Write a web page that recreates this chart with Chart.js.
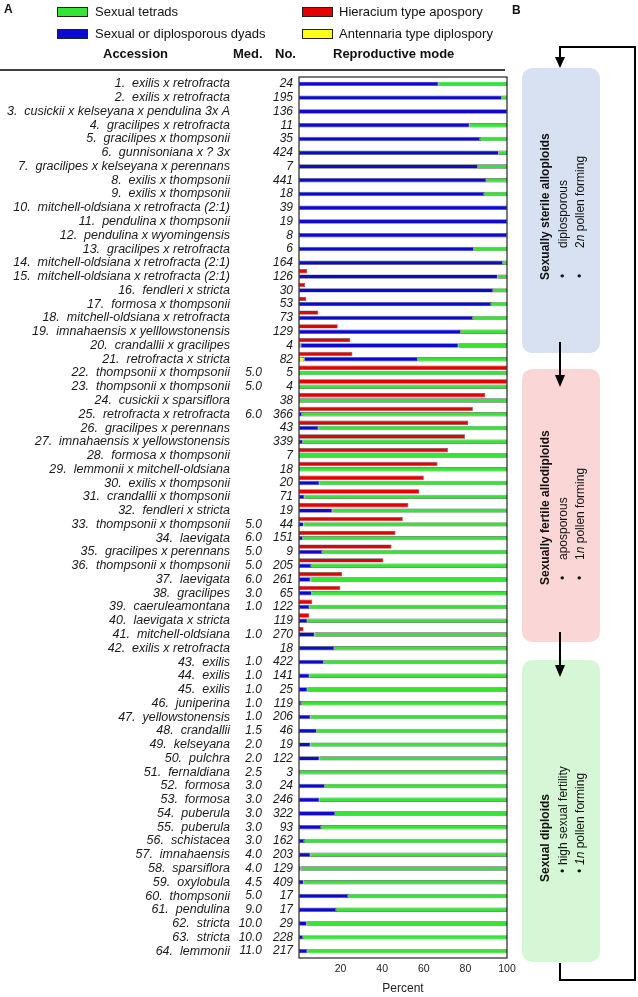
<!DOCTYPE html>
<html>
<head>
<meta charset="utf-8">
<script src="https://cdn.jsdelivr.net/npm/chart.js@4"></script>
<style>
html, body { margin: 0; padding: 0; background: #fff; }
#wrap { position: relative; width: 638px; height: 997px; font-family: "Liberation Sans", Arial, sans-serif; color: #111; }
#wrap canvas { position: absolute; left: 0; top: 0; }
.lg { position: absolute; font-size: 13px; line-height: 14px; white-space: nowrap; }
.sw { position: absolute; width: 29px; height: 8px; border: 1px solid #222; }
.hd { position: absolute; top: 46px; font-size: 13px; font-weight: bold; line-height: 15px; white-space: nowrap; }
.pl { position: absolute; font-size: 12px; font-weight: bold; }
#panelB { position: absolute; left: 0; top: 0; pointer-events: none; }
</style>
</head>
<body>
<div id="wrap">
  <canvas id="chart" width="638" height="997"></canvas>

  <div class="pl" style="left:4px;top:2px">A</div>
  <div class="pl" style="left:512px;top:3px">B</div>

  <!-- leyenda -->
  <div class="sw" style="left:57px;top:7px;background:#33e633"></div>
  <div class="lg" style="left:95px;top:5px">Sexual tetrads</div>
  <div class="sw" style="left:57px;top:29px;background:#0a0ad2"></div>
  <div class="lg" style="left:95px;top:27px">Sexual or diplosporous dyads</div>
  <div class="sw" style="left:302px;top:7px;background:#e60000"></div>
  <div class="lg" style="left:339px;top:5px">Hieracium type apospory</div>
  <div class="sw" style="left:302px;top:29px;background:#ffff1a"></div>
  <div class="lg" style="left:339px;top:27px">Antennaria type diplospory</div>

  <!-- cabecera de columnas -->
  <div class="hd" style="left:103px">Accession</div>
  <div class="hd" style="left:233px">Med.</div>
  <div class="hd" style="left:275px">No.</div>
  <div class="hd" style="left:333px">Reproductive mode</div>

  <svg id="panelB" width="638" height="997" font-family="Liberation Sans, Arial, sans-serif">
    <line x1="0" y1="70" x2="505" y2="70" stroke="#000" stroke-width="1.5"/>
    <rect x="522" y="68" width="78" height="285" rx="10" fill="#d8e1f2"/>
    <rect x="522" y="369" width="78" height="273" rx="10" fill="#fbd6d6"/>
    <rect x="522" y="660" width="78" height="302" rx="10" fill="#d6f7d6"/>
    <g stroke="#000" stroke-width="2" fill="none">
      <polyline points="560,963 560,980 635,980 635,47 560,47 560,58"/>
      <line x1="560" y1="342" x2="560" y2="376"/>
      <line x1="560" y1="632" x2="560" y2="666"/>
    </g>
    <g fill="#000">
      <polygon points="555,57 565,57 560,68"/>
      <polygon points="555,375 565,375 560,387"/>
      <polygon points="555,665 565,665 560,677"/>
    </g>
    <g font-size="12" fill="#111" dominant-baseline="central">
      <text transform="translate(545,280) rotate(-90)" font-weight="bold">Sexually sterile alloploids</text>
      <text transform="translate(563,276) rotate(-90)" text-anchor="middle">•</text>
      <text transform="translate(563,248) rotate(-90)">diplosporous</text>
      <text transform="translate(580,276) rotate(-90)" text-anchor="middle">•</text>
      <text transform="translate(580,248) rotate(-90)">2<tspan font-style="italic">n</tspan> pollen forming</text>

      <text transform="translate(545,585) rotate(-90)" font-weight="bold">Sexually fertile allodiploids</text>
      <text transform="translate(563,578) rotate(-90)" text-anchor="middle">•</text>
      <text transform="translate(563,560) rotate(-90)">aposporous</text>
      <text transform="translate(580,578) rotate(-90)" text-anchor="middle">•</text>
      <text transform="translate(580,560) rotate(-90)">1<tspan font-style="italic">n</tspan> pollen forming</text>

      <text transform="translate(545,882) rotate(-90)" font-weight="bold">Sexual diploids</text>
      <text transform="translate(563,871) rotate(-90)" text-anchor="middle">•</text>
      <text transform="translate(563,865) rotate(-90)">high sexual fertility</text>
      <text transform="translate(580,871) rotate(-90)" text-anchor="middle">•</text>
      <text transform="translate(580,865) rotate(-90)"><tspan font-style="italic">1n</tspan> pollen forming</text>
    </g>
  </svg>
</div>

<script>
// accesiones (eje de categorias)
const accessions = [
  '1.  exilis x retrofracta', '2.  exilis x retrofracta', '3.  cusickii x kelseyana x pendulina 3x A',
  '4.  gracilipes x retrofracta', '5.  gracilipes x thompsonii', '6.  gunnisoniana x ? 3x',
  '7.  gracilipes x kelseyana x perennans', '8.  exilis x thompsonii', '9.  exilis x thompsonii',
  '10.  mitchell-oldsiana x retrofracta (2:1)', '11.  pendulina x thompsonii', '12.  pendulina x wyomingensis',
  '13.  gracilipes x retrofracta', '14.  mitchell-oldsiana x retrofracta (2:1)', '15.  mitchell-oldsiana x retrofracta (2:1)',
  '16.  fendleri x stricta', '17.  formosa x thompsonii', '18.  mitchell-oldsiana x retrofracta',
  '19.  imnahaensis x yelllowstonensis', '20.  crandallii x gracilipes', '21.  retrofracta x stricta',
  '22.  thompsonii x thompsonii', '23.  thompsonii x thompsonii', '24.  cusickii x sparsiflora',
  '25.  retrofracta x retrofracta', '26.  gracilipes x perennans', '27.  imnahaensis x yellowstonensis',
  '28.  formosa x thompsonii', '29.  lemmonii x mitchell-oldsiana', '30.  exilis x thompsonii',
  '31.  crandallii x thompsonii', '32.  fendleri x stricta', '33.  thompsonii x thompsonii',
  '34.  laevigata', '35.  gracilipes x perennans', '36.  thompsonii x thompsonii',
  '37.  laevigata', '38.  gracilipes', '39.  caeruleamontana', '40.  laevigata x stricta',
  '41.  mitchell-oldsiana', '42.  exilis x retrofracta', '43.  exilis', '44.  exilis', '45.  exilis',
  '46.  juniperina', '47.  yellowstonensis', '48.  crandallii', '49.  kelseyana', '50.  pulchra',
  '51.  fernaldiana', '52.  formosa', '53.  formosa', '54.  puberula', '55.  puberula',
  '56.  schistacea', '57.  imnahaensis', '58.  sparsiflora', '59.  oxylobula', '60.  thompsonii',
  '61.  pendulina', '62.  stricta', '63.  stricta', '64.  lemmonii'
];
// columna Med.
const med = [
  '', '', '', '', '', '', '', '', '', '', '', '', '', '', '', '', '', '', '', '', '',
  '5.0', '5.0', '', '6.0', '', '', '', '', '', '', '', '5.0', '6.0', '5.0', '5.0', '6.0', '3.0', '1.0', '',
  '1.0', '', '1.0', '1.0', '1.0', '1.0', '1.0', '1.5', '2.0', '2.0', '2.5', '3.0', '3.0', '3.0', '3.0',
  '3.0', '4.0', '4.0', '4.5', '5.0', '9.0', '10.0', '10.0', '11.0'
];
// columna No.
const nObs = [
  24, 195, 136, 11, 35, 424, 7, 441, 18, 39, 19, 8, 6, 164, 126, 30, 53, 73, 129, 4, 82,
  5, 4, 38, 366, 43, 339, 7, 18, 20, 71, 19, 44, 151, 9, 205, 261, 65, 122, 119, 270,
  18, 422, 141, 25, 119, 206, 46, 19, 122, 3, 24, 246, 322, 93, 162, 203, 129, 409, 17, 17, 29, 228, 217
];
// porcentajes (barra superior: aposporia)
const hieracium = [
  0, 0, 0, 0, 0, 0, 0, 0, 0, 0, 0, 0, 0, 0, 4, 3, 3.5, 9.3, 18.6, 24.7, 25.7,
  100, 100, 89.6, 83.6, 81.4, 79.9, 71.6, 66.6, 60, 57.9, 52.6, 49.9, 46.4, 44.5, 40.6, 20.7, 19.9, 6.4, 5, 2.2,
  0, 0, 0, 0, 0, 0, 0, 0, 0, 0, 0, 0, 0, 0, 0, 0, 0, 0, 0, 0, 0, 0, 0
];
// barra inferior: diplosporia tipo Antennaria, diadas, tetradas
const antennaria = [
  0, 0, 0, 0, 0, 0, 0, 0, 0, 0, 0, 0, 0, 0, 0, 0, 0, 0, 0, 0.8, 2.5,
  0, 0, 0, 0, 0, 0, 0, 0, 0, 0, 0, 0, 0, 0, 0, 0, 0, 0, 0, 0,
  0, 0, 0, 0, 0, 0, 0, 0, 0, 0, 0, 0, 0, 0, 0, 0, 0, 0, 0, 0, 0, 0, 0
];
const dyads = [
  67, 97.5, 100, 82, 87, 96, 86, 90, 89, 100, 100, 100, 84, 98, 95.5, 93.3, 92.3, 83.6, 77.8, 75.8, 54.6,
  0, 0, 0, 1.4, 9.3, 1.8, 0, 0, 9.8, 2.6, 16, 2.2, 1.8, 11.1, 5.8, 5.5, 6.1, 5, 4, 7.5,
  16.9, 11.9, 5, 4, 1, 5.5, 8.5, 5.5, 9.8, 0, 12.4, 9.8, 17.3, 10.6, 2.4, 5.5, 0.8, 2.2, 23.6, 17.8, 3.7, 1.9, 4
];
const tetrads = [
  33, 2.5, 0, 18, 13, 4, 14, 10, 11, 0, 0, 0, 16, 2, 4.5, 6.7, 7.7, 16.4, 22.2, 23.4, 42.9,
  100, 100, 100, 98.6, 90.7, 98.2, 100, 100, 90.2, 97.4, 84, 97.8, 98.2, 88.9, 94.2, 94.5, 93.9, 95, 96, 92.5,
  83.1, 88.1, 95, 96, 99, 94.5, 91.5, 94.5, 90.2, 100, 87.6, 90.2, 82.7, 89.4, 97.6, 94.5, 99.2, 97.8, 76.4, 82.2, 96.3, 98.1, 96
];
const xTicks = [20, 40, 60, 80, 100];

const fam = '"Liberation Sans", Arial, sans-serif';

// dibuja el marco del grafico y las columnas Med. / No.
const extras = {
  id: 'extras',
  afterDatasetsDraw(chart) {
    const { ctx, chartArea: a, scales: { y } } = chart;
    ctx.save();
    ctx.strokeStyle = '#222';
    ctx.lineWidth = 1.2;
    ctx.strokeRect(a.left, a.top, a.right - a.left, a.bottom - a.top);
    ctx.fillStyle = '#1a1a1a';
    ctx.font = 'italic 12px ' + fam;
    ctx.textAlign = 'right';
    ctx.textBaseline = 'middle';
    accessions.forEach((_, i) => {
      const py = y.getPixelForValue(i);
      if (med[i]) ctx.fillText(med[i], a.left - 37, py);
      ctx.fillText(String(nObs[i]), a.left - 6, py);
    });
    ctx.restore();
  }
};

const bar = (label, data, color, stack) => ({
  label, data, stack,
  backgroundColor: color,
  borderColor: 'rgba(0,0,0,0.65)',
  borderWidth: 0.7,
  borderSkipped: false,
  categoryPercentage: 1.15,
  barPercentage: 0.84
});

new Chart(document.getElementById('chart'), {
  type: 'bar',
  data: {
    labels: accessions,
    datasets: [
      bar('Hieracium type apospory', hieracium, '#e60000', 'apo'),
      bar('Antennaria type diplospory', antennaria, '#ffff1a', 'sex'),
      bar('Sexual or diplosporous dyads', dyads, '#0a0ad2', 'sex'),
      bar('Sexual tetrads', tetrads, '#33e633', 'sex'),
      { label: '', data: accessions.map(() => 0), stack: 'pad', borderWidth: 0,
        categoryPercentage: 1.15, barPercentage: 0.84 }
    ]
  },
  options: {
    indexAxis: 'y',
    responsive: false,
    animation: false,
    layout: { padding: { top: 77, right: 131, left: 0, bottom: 0 } },
    plugins: { legend: { display: false }, tooltip: { enabled: false } },
    scales: {
      x: {
        stacked: true,
        min: 0, max: 100,
        afterBuildTicks: s => { s.ticks = xTicks.map(v => ({ value: v })); },
        afterFit: s => { s.height = 39; },
        grid: { display: false, drawTicks: false },
        border: { display: false },
        ticks: { color: '#222', padding: 5, font: { size: 10.5, family: fam } },
        title: { display: true, text: 'Percent', color: '#222', padding: { top: 0, bottom: 1 },
                 font: { size: 12, family: fam } }
      },
      y: {
        stacked: true,
        afterFit: s => { s.width = 299; s.paddingTop = 0; s.paddingBottom = 0; },
        grid: { display: false, drawTicks: false },
        border: { display: false },
        ticks: { autoSkip: false, padding: 69, color: '#1a1a1a',
                 font: { size: 12.5, style: 'italic', family: fam } }
      }
    }
  },
  plugins: [extras]
});
</script>
</body>
</html>
